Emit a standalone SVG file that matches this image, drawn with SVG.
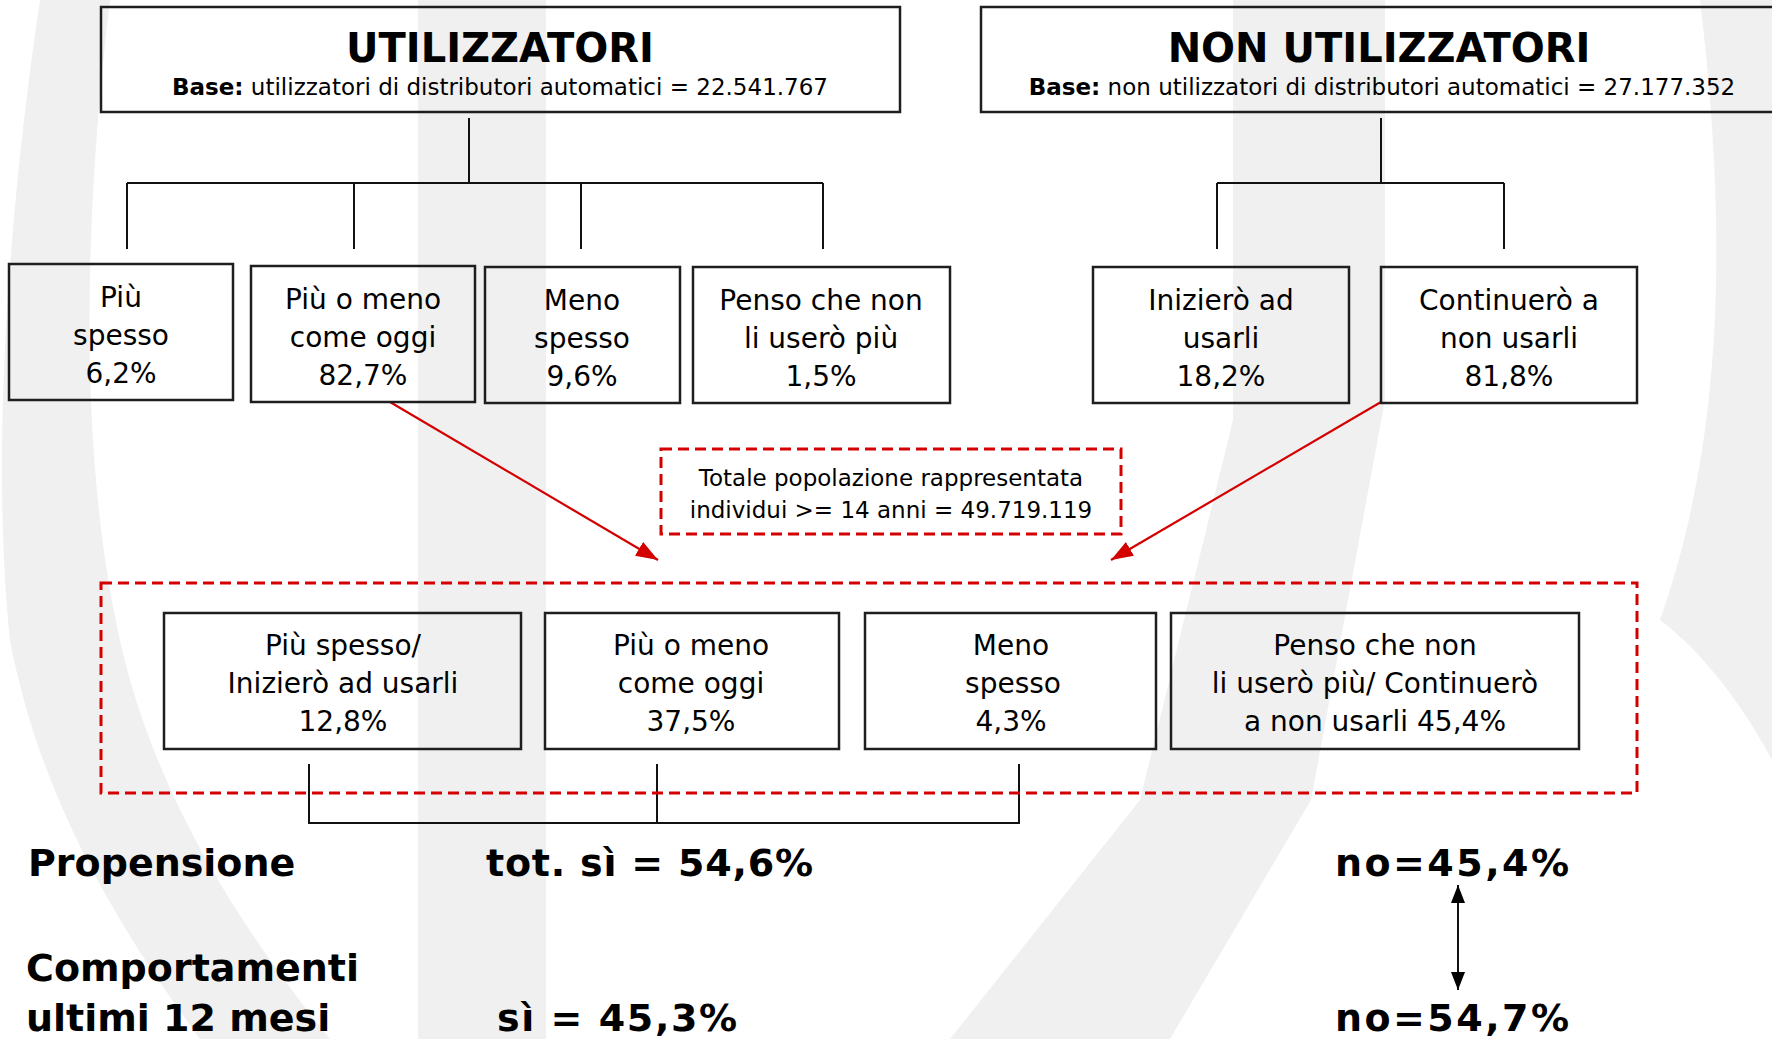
<svg xmlns="http://www.w3.org/2000/svg" width="1772" height="1039" viewBox="0 0 1772 1039">
<defs>
<style>
.bg{fill:#f0f0f0}
.box{fill:none;stroke:#1e1e1e;stroke-width:2.5}
.dash{fill:none;stroke:#d40000;stroke-width:3;stroke-dasharray:11 6}
.wire{fill:none;stroke:#111;stroke-width:2}
.red{fill:none;stroke:#d40000;stroke-width:2.2}
text{font-family:"DejaVu Sans",Verdana,sans-serif;fill:#000;text-anchor:middle}
.t{font-size:40px;font-weight:bold}
.b{font-size:23px}
.n{font-size:28px}
.s{font-size:23px}
.big{font-size:38px;font-weight:bold;text-anchor:start}
</style>
<marker id="ar" markerUnits="userSpaceOnUse" markerWidth="22" markerHeight="16" refX="22" refY="8" orient="auto"><path d="M0,0 L22,8 L0,16 z" fill="#d40000"/></marker>
<marker id="ak" markerUnits="userSpaceOnUse" markerWidth="18" markerHeight="14" refX="18" refY="7" orient="auto-start-reverse"><path d="M0,0 L18,7 L0,14 z" fill="#000"/></marker>
</defs>
<rect width="1772" height="1039" fill="#fff"/>
<g id="background">
<path class="bg" d="M40,0 L110,0 C80,250 80,500 130,680 C170,820 250,940 330,1039 L200,1039 C120,930 40,800 10,640 C-10,450 10,200 40,0 Z"/>
<rect class="bg" x="418" y="0" width="128" height="1039"/>
<path class="bg" d="M1233,0 L1385,0 L1385,400 L1311,800 L1170,1039 L950,1039 L1140,800 L1233,420 Z"/>
<path class="bg" d="M1700,0 L1772,0 L1772,760 C1740,700 1700,650 1660,620 C1720,450 1730,250 1700,0 Z"/>
</g>
<g id="connectors">
<path class="wire" d="M469,118 V183 M127,183 H823 M127,183 V249 M354,183 V249 M581,183 V249 M823,183 V249"/>
<path class="wire" d="M1381,118 V183 M1217,183 H1504 M1217,183 V249 M1504,183 V249"/>
<path class="red" d="M390,402 L658,560" marker-end="url(#ar)"/>
<path class="red" d="M1381,402 L1111,560" marker-end="url(#ar)"/>
<path class="wire" d="M309,764 V823 H1019 V764 M657,764 V823"/>
<path class="wire" d="M1458,885 V990" marker-start="url(#ak)" marker-end="url(#ak)"/>
</g>
<g id="utilizzatori">
<rect class="box" x="101" y="7" width="799" height="105"/>
<text class="t" x="500" y="62">UTILIZZATORI</text>
<text class="b" x="500" y="95"><tspan font-weight="bold">Base:</tspan> utilizzatori di distributori automatici = 22.541.767</text>
</g>
<g id="non-utilizzatori">
<rect class="box" x="981" y="7" width="830" height="105"/>
<text class="t" x="1379" y="62">NON UTILIZZATORI</text>
<text class="b" x="1382" y="95"><tspan font-weight="bold">Base:</tspan> non utilizzatori di distributori automatici = 27.177.352</text>
</g>
<g id="u-piu-spesso">
<rect class="box" x="9" y="264" width="224" height="136"/>
<text class="n" x="121" y="307">Più</text>
<text class="n" x="121" y="345">spesso</text>
<text class="n" x="121" y="383">6,2%</text>
</g>
<g id="u-come-oggi">
<rect class="box" x="251" y="266" width="224" height="136"/>
<text class="n" x="363" y="309">Più o meno</text>
<text class="n" x="363" y="347">come oggi</text>
<text class="n" x="363" y="385">82,7%</text>
</g>
<g id="u-meno-spesso">
<rect class="box" x="485" y="267" width="195" height="136"/>
<text class="n" x="582" y="310">Meno</text>
<text class="n" x="582" y="348">spesso</text>
<text class="n" x="582" y="386">9,6%</text>
</g>
<g id="u-non-piu">
<rect class="box" x="693" y="267" width="257" height="136"/>
<text class="n" x="821" y="310">Penso che non</text>
<text class="n" x="821" y="348">li userò più</text>
<text class="n" x="821" y="386">1,5%</text>
</g>
<g id="n-iniziero">
<rect class="box" x="1093" y="267" width="256" height="136"/>
<text class="n" x="1221" y="310">Inizierò ad</text>
<text class="n" x="1221" y="348">usarli</text>
<text class="n" x="1221" y="386">18,2%</text>
</g>
<g id="n-continuero">
<rect class="box" x="1381" y="267" width="256" height="136"/>
<text class="n" x="1509" y="310">Continuerò a</text>
<text class="n" x="1509" y="348">non usarli</text>
<text class="n" x="1509" y="386">81,8%</text>
</g>
<g id="totale">
<rect class="dash" x="661" y="449" width="460" height="85"/>
<text class="s" x="891" y="486">Totale popolazione rappresentata</text>
<text class="s" x="891" y="518">individui &gt;= 14 anni = 49.719.119</text>
</g>
<g id="gruppo-totale">
<rect class="dash" x="101" y="583" width="1536" height="210"/>
</g>
<g id="t-piu-spesso">
<rect class="box" x="164" y="613" width="357" height="136"/>
<text class="n" x="343" y="655">Più spesso/</text>
<text class="n" x="343" y="693">Inizierò ad usarli</text>
<text class="n" x="343" y="731">12,8%</text>
</g>
<g id="t-come-oggi">
<rect class="box" x="545" y="613" width="294" height="136"/>
<text class="n" x="691" y="655">Più o meno</text>
<text class="n" x="691" y="693">come oggi</text>
<text class="n" x="691" y="731">37,5%</text>
</g>
<g id="t-meno-spesso">
<rect class="box" x="865" y="613" width="291" height="136"/>
<text class="n" x="1011" y="655">Meno</text>
<text class="n" x="1013" y="693">spesso</text>
<text class="n" x="1011" y="731">4,3%</text>
</g>
<g id="t-non-usarli">
<rect class="box" x="1171" y="613" width="408" height="136"/>
<text class="n" x="1375" y="655">Penso che non</text>
<text class="n" x="1375" y="693">li userò più/ Continuerò</text>
<text class="n" x="1375" y="731">a non usarli 45,4%</text>
</g>
<g id="risultati">
<text class="big" x="28" y="876">Propensione</text>
<text class="big" x="486" y="876" textLength="327" lengthAdjust="spacing">tot. sì = 54,6%</text>
<text class="big" x="1335" y="876" textLength="234" lengthAdjust="spacing">no=45,4%</text>
<text class="big" x="26" y="981">Comportamenti</text>
<text class="big" x="26" y="1031">ultimi 12 mesi</text>
<text class="big" x="497" y="1031" textLength="240" lengthAdjust="spacing">sì = 45,3%</text>
<text class="big" x="1335" y="1031" textLength="234" lengthAdjust="spacing">no=54,7%</text>
</g>
</svg>
